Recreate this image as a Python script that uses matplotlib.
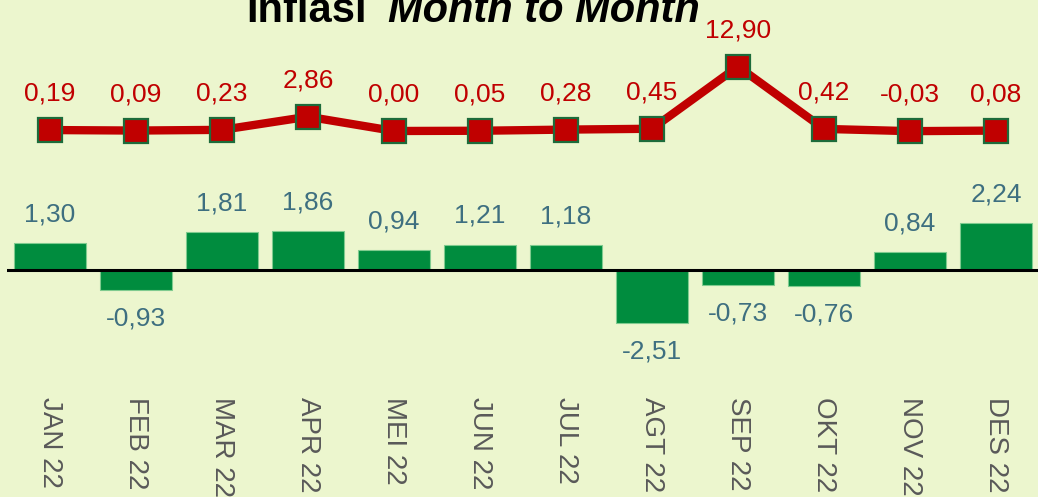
import matplotlib
matplotlib.use("Agg")
import matplotlib.pyplot as plt
import matplotlib.transforms as mtransforms
import numpy as np

# data
months = ["JAN 22", "FEB 22", "MAR 22", "APR 22", "MEI 22", "JUN 22",
          "JUL 22", "AGT 22", "SEP 22", "OKT 22", "NOV 22", "DES 22"]
line_vals = [0.19, 0.09, 0.23, 2.86, 0.00, 0.05, 0.28, 0.45, 12.90, 0.42, -0.03, 0.08]
bar_vals = [1.30, -0.93, 1.81, 1.86, 0.94, 1.21, 1.18, -2.51, -0.73, -0.76, 0.84, 2.24]

bg = "#ECF6CE"
plt.rcParams["font.family"] = ["Liberation Sans", "DejaVu Sans"]


def fmt(v):
    return f"{v:.2f}".replace(".", ",")


W, H = 1038, 497
fig = plt.figure(figsize=(W / 100, H / 100), dpi=100, facecolor=bg)

x = np.arange(len(months))
pos = [7 / W, 0, 1032 / W, 1]

# --- bars (own scale) ---
ax = fig.add_axes(pos)
ax.set_facecolor("none")
px_bar = 21.0
zero_bar = 270
ax.set_xlim(-0.5, 11.5)
ax.set_ylim(-(H - zero_bar) / px_bar, zero_bar / px_bar)
ax.bar(x, bar_vals, width=0.84, color="#008C3E", edgecolor="#7FCB8F", linewidth=0.8, zorder=2)
ax.axhline(0, color="black", lw=2.2, zorder=3)
for xi, v in zip(x, bar_vals):
    off = 12 if v >= 0 else -12
    ax.annotate(fmt(v), (xi, v), xytext=(0, off), textcoords="offset points",
                ha="center", va="bottom" if v >= 0 else "top",
                fontsize=19, color="#3E6F80")
ax.axis("off")

trans = mtransforms.blended_transform_factory(ax.transData, ax.transAxes)
for xi, m in zip(x, months):
    ax.text(xi, 1 - 397 / H, m, rotation=270, ha="center", va="top",
            fontsize=20, color="#595959", transform=trans)

# --- line (own scale) ---
ax2 = fig.add_axes(pos)
ax2.set_facecolor("none")
px_line = 5.0
zero_line = 131
ax2.set_xlim(-0.5, 11.5)
ax2.set_ylim(-(H - zero_line) / px_line, zero_line / px_line)
ax2.plot(x, line_vals, color="#C00000", lw=6, marker="s", markersize=17,
         markerfacecolor="#C00000", markeredgecolor="#1D6B3B", markeredgewidth=1.6,
         solid_joinstyle="miter", zorder=4)
for xi, v in zip(x, line_vals):
    ax2.annotate(fmt(v), (xi, v), xytext=(0, 21), textcoords="offset points",
                 ha="center", va="baseline", fontsize=19, color="#C00000")
ax2.axis("off")

# --- title (partly cut at the top) ---
fig.text(367 / W, 1 - 22 / H, "Inflasi", ha="right", va="baseline",
         fontsize=30, fontweight="bold", color="black")
fig.text(388 / W, 1 - 22 / H, "Month to Month", ha="left", va="baseline",
         fontsize=30, fontweight="bold", fontstyle="italic", color="black")

fig.savefig("out.png", dpi=100, facecolor=bg)
